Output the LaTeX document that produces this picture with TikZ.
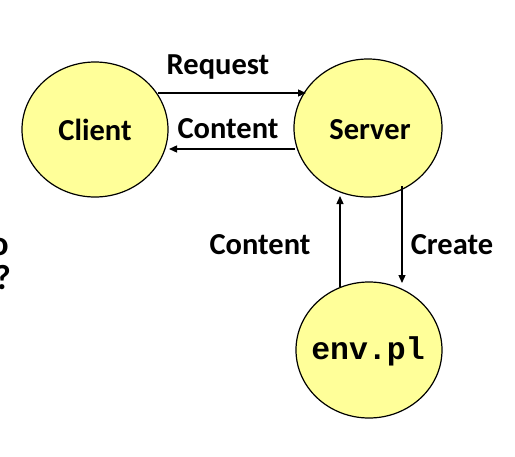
\documentclass[tikz,border=0pt]{standalone}
\usepackage{fontspec}
\setmainfont{Carlito}
\setmonofont{Liberation Mono}
\usetikzlibrary{arrows.meta}
\definecolor{nodefill}{RGB}{255,255,153}
\begin{document}
\begin{tikzpicture}[x=1pt,y=-1pt,
  bubble/.style={fill=nodefill,draw=black,line width=1.2pt},
  conn/.style={line width=1.3pt,-{Triangle[length=8pt,width=7pt]}},
  lbl/.style={font=\bfseries\fontsize{30.5}{34}\selectfont,inner sep=0pt}]
\useasboundingbox (0,0) rectangle (515,456);
\path[bubble] (95,129.5) ellipse [x radius=73, y radius=67.5];
\node[lbl] (client) at (95,130) {Client};
\path[bubble] (368,128) ellipse [x radius=74, y radius=69];
\node[lbl] (server) at (370,130) {Server};
\path[bubble] (369,350) ellipse [x radius=73, y radius=68];
\node[lbl,font=\ttfamily\bfseries\fontsize{31.5}{34}\selectfont] (env) at (368,351) {env.pl};
\coordinate (r1) at (158,93); \coordinate (r2) at (306,93);
\coordinate (c1) at (295,149); \coordinate (c2) at (169,149);
\coordinate (u1) at (340,287); \coordinate (u2) at (340,196);
\coordinate (d1) at (402,186); \coordinate (d2) at (402,283);
\draw[conn] (r1) -- (r2);
\draw[conn] (c1) -- (c2);
\draw[conn] (u1) -- (u2);
\draw[conn] (d1) -- (d2);
\node[lbl] (lreq) at (218,67) {Request};
\node[lbl] (lcon) at (228,129) {Content};
\node[lbl] (lcon2) at (260,245) {Content};
\node[lbl] (lcre) at (452,245) {Create};
\node[lbl,font=\bfseries\fontsize{35}{38}\selectfont,anchor=east] (o) at (9,247) {o};
\node[lbl,font=\bfseries\fontsize{35}{38}\selectfont,anchor=east] (q) at (11,278) {?};
\end{tikzpicture}
\end{document}
